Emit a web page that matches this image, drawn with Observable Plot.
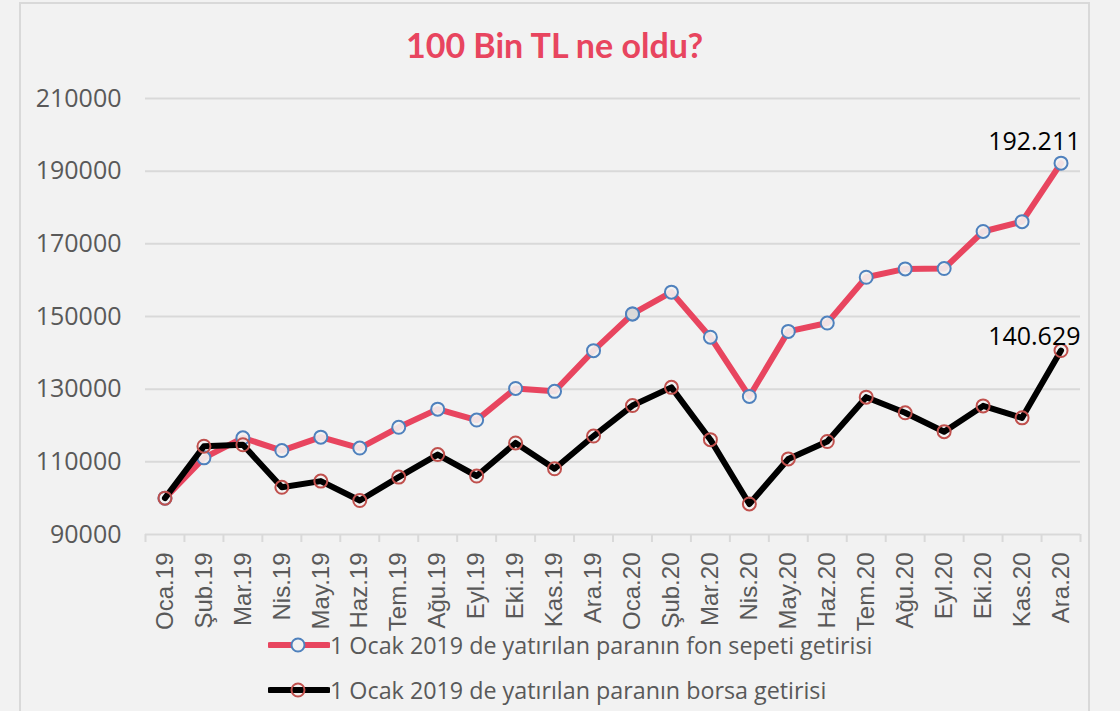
<!DOCTYPE html>
<html>
<head>
<meta charset="utf-8">
<script src="https://cdn.jsdelivr.net/npm/d3@7"></script>
<script src="https://cdn.jsdelivr.net/npm/@observablehq/plot@0.6"></script>
<style>
  html, body { margin: 0; padding: 0; background: #f2f2f2; width: 1120px; height: 711px; overflow: hidden; }
  #frame { position: absolute; left: 19px; top: 2px; width: 1067px; height: 760px; border: 2px solid #d9d9d9; border-bottom: none; }
  #title { position: absolute; left: 19px; width: 1071px; top: 27px; height: 36px; line-height: 36px; text-align: center;
           font-family: Lato, "Open Sans", sans-serif; font-weight: bold; font-size: 34px; color: #e8455f; }
  #chart { position: absolute; left: 0; top: 70px; }
  .leg { position: absolute; left: 268px; height: 30px; display: flex; align-items: center;
         font-family: "Open Sans", "Noto Sans", sans-serif; font-size: 23.3px; color: #595959; white-space: nowrap; }
  .leg svg { margin-right: 0px; }
</style>
</head>
<body>
<div id="frame"></div>
<div id="title">100 Bin TL ne oldu?</div>
<div id="chart"></div>
<div class="leg" id="leg1" style="top:630px"></div>
<div class="leg" id="leg2" style="top:675px"></div>
<script>
const months = ["Oca.19","Şub.19","Mar.19","Nis.19","May.19","Haz.19","Tem.19","Ağu.19","Eyl.19","Eki.19","Kas.19","Ara.19",
                "Oca.20","Şub.20","Mar.20","Nis.20","May.20","Haz.20","Tem.20","Ağu.20","Eyl.20","Eki.20","Kas.20","Ara.20"];
const fonValues = [100000,111100,116600,113100,116800,113800,119500,124500,121500,130200,129400,140600,
                   150700,156700,144300,128000,145900,148200,160800,163100,163200,173400,176100,192211];
const borsaValues = [100000,114300,114700,103000,104700,99350,105800,112000,106100,115200,108100,117100,
                     125500,130500,116100,98400,110800,115600,127800,123500,118300,125400,122100,140629];
const yTicks = [90000,110000,130000,150000,170000,190000,210000];
const seriesNames = ["1 Ocak 2019 de yatırılan paranın fon sepeti getirisi","1 Ocak 2019 de yatırılan paranın borsa getirisi"];
const highlighted = ["Oca.20"];

const fon = months.map((m, i) => ({month: m, value: fonValues[i]}));
const borsa = months.map((m, i) => ({month: m, value: borsaValues[i]}));

const RED = "#e8455f", BLUE = "#4f81bd", BROWN = "#c0504d", GRID = "#d9d9d9";
const W = 1120, H = 560, ML = 145, MR = 40, MT = 28, MB = 96;
const step = (W - ML - MR) / months.length;
const trFormat = d3.formatLocale({decimal: ",", thousands: ".", grouping: [3], currency: ["", ""]}).format(",d");

const chart = Plot.plot({
  width: W, height: H,
  marginLeft: ML, marginRight: MR, marginTop: MT, marginBottom: MB,
  style: {background: "transparent", fontFamily: "'Open Sans', sans-serif", color: "#595959", overflow: "visible"},
  x: {type: "point", domain: months, padding: 0.5, round: false, label: null},
  y: {domain: [90000, 210000], label: null},
  marks: [
    Plot.ruleY(yTicks.slice(1), {stroke: GRID, strokeWidth: 2}),
    Plot.ruleY([yTicks[0]], {stroke: GRID, strokeWidth: 2}),
    Plot.ruleX(months, {x: d => d, y1: yTicks[0], y2: yTicks[0], insetBottom: -8, dx: -step / 2, stroke: GRID, strokeWidth: 2}),
    Plot.ruleX(months.slice(-1), {x: d => d, y1: yTicks[0], y2: yTicks[0], insetBottom: -8, dx: step / 2, stroke: GRID, strokeWidth: 2}),
    Plot.axisY({ticks: yTicks, tickSize: 0, tickPadding: 24, fontSize: 25, tickFormat: d => String(d)}),
    Plot.axisX({tickSize: 0, tickRotate: -90, tickPadding: 18, fontSize: 24, fontFamily: "'Liberation Sans', Arial, sans-serif"}),
    Plot.line(fon, {x: "month", y: "value", stroke: RED, strokeWidth: 6}),
    Plot.dot(fon, {x: "month", y: "value", r: 6.5, stroke: BLUE, strokeWidth: 2, fill: "#f2f2f2", fillOpacity: 0.9}),
    Plot.dot(fon.filter(d => highlighted.includes(d.month)), {x: "month", y: "value", r: 6.5, stroke: BLUE, strokeWidth: 2, fill: "#d9d9d9"}),
    Plot.line(borsa, {x: "month", y: "value", stroke: "#000", strokeWidth: 6}),
    Plot.dot(borsa, {x: "month", y: "value", r: 6.5, stroke: BROWN, strokeWidth: 2, fill: "none"}),
    Plot.text(fon.slice(-1), {x: "month", y: "value", text: d => trFormat(d.value), textAnchor: "end", dx: step / 2, dy: -21, fontSize: 25, fill: "#000"}),
    Plot.text(borsa.slice(-1), {x: "month", y: "value", text: d => trFormat(d.value), textAnchor: "end", dx: step / 2, dy: -14, fontSize: 25, fill: "#000"})
  ]
});
document.getElementById("chart").appendChild(chart);

function swatch(lineColor, markerStroke, markerFill) {
  return `<svg width="62" height="30"><line x1="2" x2="60" y1="15" y2="15" stroke="${lineColor}" stroke-width="6" stroke-linecap="round"/>` +
         `<circle cx="30" cy="15" r="6.5" stroke="${markerStroke}" stroke-width="2" fill="${markerFill}"/></svg>`;
}
document.getElementById("leg1").innerHTML = swatch(RED, BLUE, "#f2f2f2") + `<span>${seriesNames[0]}</span>`;
document.getElementById("leg2").innerHTML = swatch("#000", BROWN, "none") + `<span>${seriesNames[1]}</span>`;
</script>
</body>
</html>
